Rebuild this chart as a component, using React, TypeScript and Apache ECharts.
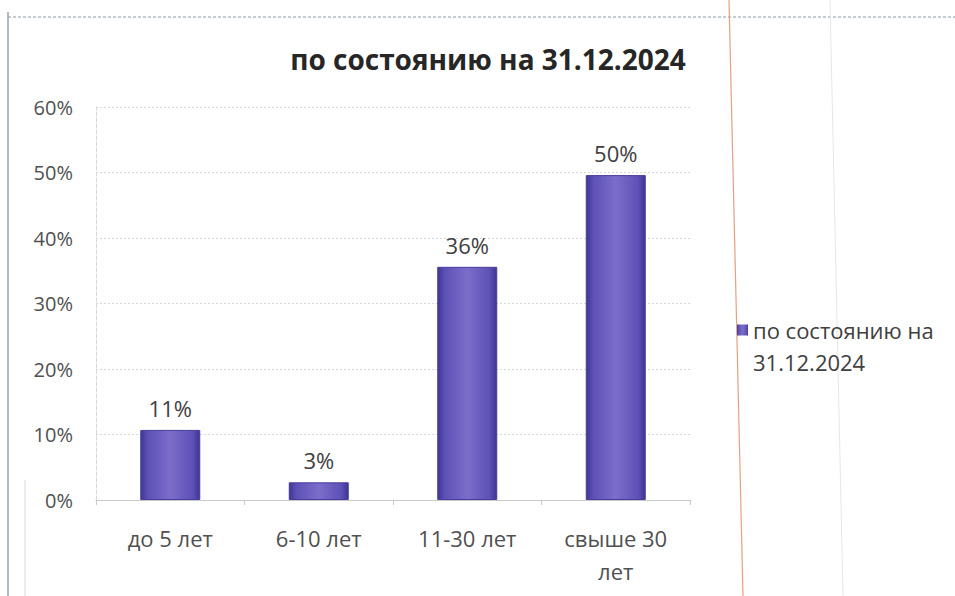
import React, { useEffect, useRef } from "react";
import * as echarts from "echarts";

const categories = ["до 5 лет", "6-10 лет", "11-30 лет", "свыше 30 лет"];
const values = [0.107, 0.027, 0.356, 0.496];
const seriesName = "по состоянию на 31.12.2024";
const yTicks = [0, 0.1, 0.2, 0.3, 0.4, 0.5, 0.6];

const FONT = "'Open Sans', 'Noto Sans', sans-serif";

export default function App() {
  const ref = useRef<HTMLDivElement>(null);
  useEffect(() => {
    if (!ref.current) return;
    const chart = echarts.init(ref.current, null, { renderer: "svg" });
    chart.setOption({
      animation: false,
      backgroundColor: "#ffffff",
      textStyle: { fontFamily: FONT },
      title: {
        text: seriesName,
        left: 483,
        top: 40,
        textAlign: "center",
        textStyle: { fontFamily: FONT, fontSize: 28, fontWeight: "bold", color: "#262626" },
      },
      legend: {
        left: 732,
        top: 309,
        orient: "vertical",
        itemWidth: 11,
        itemHeight: 43,
        icon: "path://M0,0h11v11h-11z M0,43L0.01,43",
        itemStyle: { borderWidth: 0 },
        formatter: (n: string) => n.replace("на ", "на\n"),
        textStyle: { fontFamily: FONT, fontSize: 22, color: "#404040", lineHeight: 32 },
      },
      grid: { left: 96, right: 265, top: 107, bottom: 96, containLabel: false },
      xAxis: {
        type: "category",
        data: categories,
        axisLine: { lineStyle: { color: "#c8c8c8", width: 1 } },
        axisTick: { show: true, length: 5, lineStyle: { color: "#c8c8c8" } },
        axisLabel: {
          margin: 21,
          fontFamily: FONT,
          fontSize: 22,
          color: "#505050",
          lineHeight: 33,
          formatter: (v: string) => (v.length > 10 ? v.replace(/ (\S+)$/, "\n$1") : v),
        },
      },
      yAxis: {
        type: "value",
        min: yTicks[0],
        max: yTicks[yTicks.length - 1],
        interval: 0.1,
        axisLine: { show: true, lineStyle: { color: "#d8d8d8", type: "dashed" } },
        axisTick: { show: false },
        splitLine: { lineStyle: { color: "#d3d9df", type: [2, 2], width: 1 } },
        axisLabel: {
          margin: 23,
          fontFamily: FONT,
          fontSize: 20,
          color: "#505050",
          formatter: (v: number) => Math.round(v * 100) + "%",
        },
      },
      series: [
        {
          name: seriesName,
          type: "bar",
          data: values,
          barWidth: 60,
          itemStyle: {
            color: new echarts.graphic.LinearGradient(0, 0, 1, 0, [
              { offset: 0, color: "#3f3592" },
              { offset: 0.12, color: "#5e51b6" },
              { offset: 0.5, color: "#7c6dcb" },
              { offset: 0.88, color: "#5e51b6" },
              { offset: 1, color: "#3f3592" },
            ]),
            borderColor: "#463c9c",
            borderWidth: 1,
          },
          label: {
            show: true,
            position: "top",
            distance: 11,
            fontFamily: FONT,
            fontSize: 22,
            color: "#404040",
            formatter: (p: any) => Math.round(p.value * 100) + "%",
          },
        },
      ],
      graphic: [
        { type: "line", shape: { x1: 8, y1: 17, x2: 955, y2: 17 }, style: { stroke: "#8a9aa8", lineWidth: 1, lineDash: [3, 2] } },
        { type: "line", shape: { x1: 8, y1: 12, x2: 8, y2: 596 }, style: { stroke: "#9aa6ae", lineWidth: 1.5 } },
        { type: "line", shape: { x1: 25, y1: 480, x2: 25, y2: 596 }, style: { stroke: "#d8d8d8", lineWidth: 1 } },
        { type: "line", shape: { x1: 729, y1: 0, x2: 743, y2: 596 }, style: { stroke: "#e8a080", lineWidth: 1.2 } },
        { type: "line", shape: { x1: 830, y1: 0, x2: 843, y2: 596 }, style: { stroke: "#e6e6e6", lineWidth: 1 } },
      ],
    });
    return () => chart.dispose();
  }, []);
  return <div ref={ref} style={{ width: 955, height: 596, position: "absolute", left: 0, top: 0 }} />;
}
